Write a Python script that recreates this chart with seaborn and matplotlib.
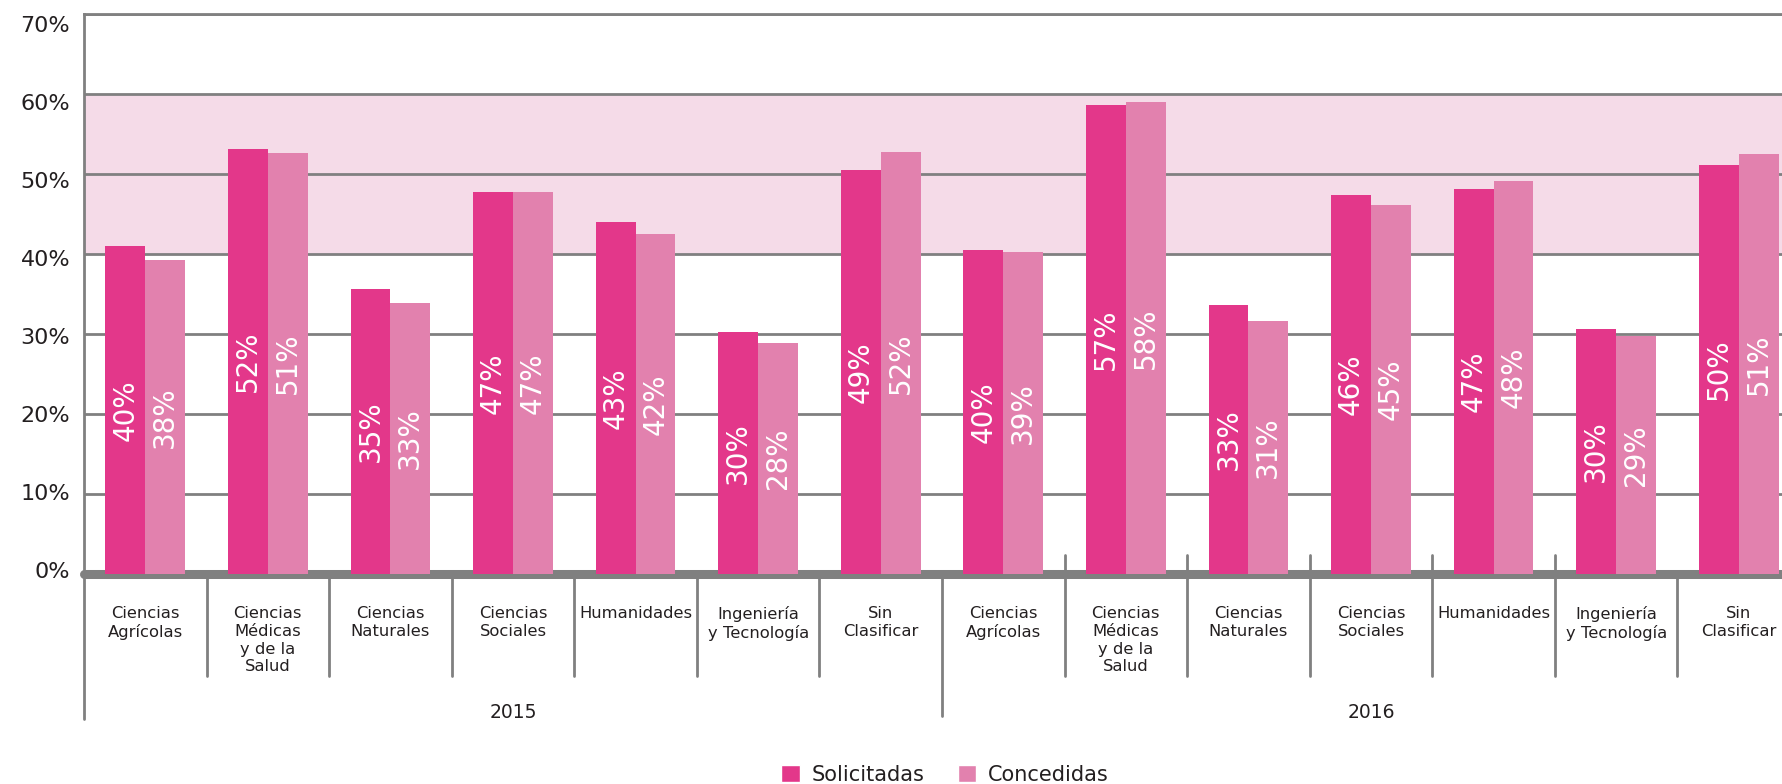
import matplotlib
matplotlib.use("Agg")
import matplotlib.pyplot as plt
import matplotlib.transforms as mtransforms
import seaborn as sns
import pandas as pd
from matplotlib.patches import Patch

# ---------------- data ----------------
years = ["2015", "2016"]
categories = ["Ciencias\nAgrícolas", "Ciencias\nMédicas\ny de la\nSalud", "Ciencias\nNaturales",
              "Ciencias\nSociales", "Humanidades", "Ingeniería\ny Tecnología", "Sin\nClasificar"]
series = ["Solicitadas", "Concedidas"]
# bar heights as drawn in the picture (%)
solicitadas = [41.0, 53.1, 35.6, 47.8, 44.0, 30.2, 50.5,
               40.5, 58.6, 33.6, 47.4, 48.1, 30.6, 51.1]
concedidas = [39.3, 52.6, 33.9, 47.7, 42.5, 28.9, 52.8,
              40.3, 59.0, 31.6, 46.1, 49.1, 29.7, 52.5]
# printed value labels
labels_solicitadas = ["40%", "52%", "35%", "47%", "43%", "30%", "49%",
                      "40%", "57%", "33%", "46%", "47%", "30%", "50%"]
labels_concedidas = ["38%", "51%", "33%", "47%", "42%", "28%", "52%",
                     "39%", "58%", "31%", "45%", "48%", "29%", "51%"]
yticks = [0, 10, 20, 30, 40, 50, 60, 70]
ytick_labels = ["0%", "10%", "20%", "30%", "40%", "50%", "60%", "70%"]
band = (40, 60)

# ---------------- style ----------------
C_SOL = "#E3378A"
C_CON = "#E281AE"
C_BAND = "#F5DBE8"
C_GRID = "#808080"
C_TEXT = "#231F20"

sns.set_style("white")
plt.rcParams["font.family"] = ["DejaVu Sans"]

groups = [f"{y} {c}" for y in years for c in categories]
rows = []
for i, g in enumerate(groups):
    rows.append({"grupo": g, "serie": series[0], "valor": solicitadas[i]})
    rows.append({"grupo": g, "serie": series[1], "valor": concedidas[i]})
df = pd.DataFrame(rows)

W, H = 1782, 784
fig = plt.figure(figsize=(W / 100, H / 100), dpi=100)
ax = fig.add_axes([84 / W, 1 - 574 / H, 1716 / W, 560 / H])

ax.axhspan(band[0], band[1], color=C_BAND, zorder=0, lw=0)

sns.barplot(data=df, x="grupo", y="valor", hue="serie", order=groups, hue_order=series,
            palette=[C_SOL, C_CON], width=0.65, saturation=1, errorbar=None,
            legend=False, ax=ax, linewidth=0, zorder=3)

ax.set_xlim(-0.5, len(groups) - 0.5)
ax.set_ylim(0, 70)
ax.set_yticks(yticks)
ax.set_yticklabels(ytick_labels, fontsize=16, color=C_TEXT)
ax.tick_params(axis="y", length=0, pad=10)
ax.set_xticks([])
ax.set_xlabel("")
ax.set_ylabel("")

# the printed tick labels sit on a slightly tighter spacing than the grid
for v, lab in zip(yticks, ax.get_yticklabels()):
    dy = (v - 20) * 0.025 * 8 / 100  # inches
    lab.set_transform(lab.get_transform() +
                      mtransforms.ScaledTranslation(0, -dy, fig.dpi_scale_trans))

ax.yaxis.grid(True, color=C_GRID, lw=2)
ax.set_axisbelow(True)
for s in ["right", "bottom"]:
    ax.spines[s].set_visible(False)
for s in ["left", "top"]:
    ax.spines[s].set_color(C_GRID)
    ax.spines[s].set_linewidth(2)

# thick baseline
ax.axhline(0, color=C_GRID, lw=6.5, zorder=2, clip_on=False)

# value labels
for cont, labs in zip(ax.containers, [labels_solicitadas, labels_concedidas]):
    ax.bar_label(cont, labels=labs, label_type="center", rotation=90, color="white",
                 fontsize=20)

# separators & axis extension below the plot
tr = ax.get_xaxis_transform()
ax.plot([-0.5, -0.5], [0, -0.259], transform=tr, color=C_GRID, lw=2, clip_on=False)
n_cat = len(categories)
for i in range(1, len(groups)):
    x = i - 0.5
    if i == n_cat:
        y0, y1 = 0, -0.254
    else:
        y1 = -0.182
        if i > n_cat:
            y0 = 0.034 if i < len(groups) - 1 else 0.006
        else:
            y0 = 0
    ax.plot([x, x], [y0, y1], transform=tr, color=C_GRID, lw=2, clip_on=False, zorder=1)

# category labels
for i, g in enumerate(groups):
    cat = categories[i % n_cat]
    ax.text(i, -0.058, cat, transform=tr, ha="center", va="top", fontsize=11.8,
            color=C_TEXT, linespacing=1.22)

# year labels
for k, y in enumerate(years):
    xc = k * n_cat + (n_cat - 1) / 2
    ax.text(xc, -0.248, y, transform=tr, ha="center", va="center", fontsize=13.5,
            color=C_TEXT)

# legend
handles = [Patch(facecolor=C_SOL, label=series[0]), Patch(facecolor=C_CON, label=series[1])]
fig.legend(handles=handles, loc="center", bbox_to_anchor=(945 / W, 1 - 775 / H), ncol=2,
           frameon=False, fontsize=15, handlelength=0.9, handleheight=0.9,
           handletextpad=0.55, columnspacing=1.6, labelcolor=C_TEXT)

fig.savefig("out.png", dpi=100)
